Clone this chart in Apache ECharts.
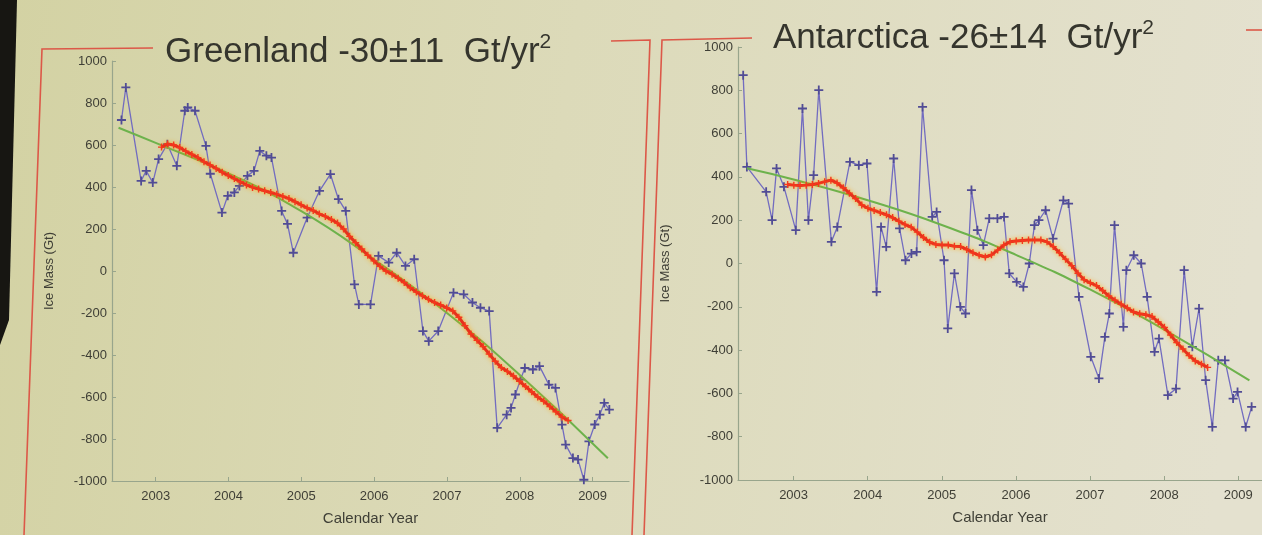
<!DOCTYPE html>
<html>
<head>
<meta charset="utf-8">
<title>GRACE ice mass: Greenland and Antarctica</title>
<script src="https://cdn.jsdelivr.net/npm/echarts@6/dist/echarts.min.js"></script>
<style>
  html, body { margin: 0; padding: 0; background: #dcdabc; }
  #chart { width: 1262px; height: 535px; }
</style>
</head>
<body>
<div id="chart"></div>
<script>
// Tick labels on the time axis
const yearTicks = [2003, 2004, 2005, 2006, 2007, 2008, 2009];

// Greenland: monthly GRACE solutions (decimal year, Gt)
const greenlandYears = [2002.53, 2002.59, 2002.80, 2002.87, 2002.96, 2003.04, 2003.16, 2003.29, 2003.40, 2003.44,
  2003.54, 2003.69, 2003.75, 2003.91, 2003.99, 2004.08, 2004.15, 2004.26, 2004.35, 2004.43,
  2004.52, 2004.59, 2004.73, 2004.81, 2004.89, 2005.08, 2005.25, 2005.40, 2005.51, 2005.61,
  2005.73, 2005.79, 2005.95, 2006.06, 2006.20, 2006.31, 2006.43, 2006.55, 2006.67, 2006.75,
  2006.88, 2007.09, 2007.23, 2007.35, 2007.46, 2007.58, 2007.69, 2007.82, 2007.88, 2007.94,
  2008.01, 2008.07, 2008.18, 2008.27, 2008.40, 2008.49, 2008.58, 2008.63, 2008.73, 2008.80,
  2008.88, 2008.95, 2009.03, 2009.10, 2009.16, 2009.23];
const greenlandMass = [719, 874, 429, 477, 421, 533, 604, 501, 763, 779,
  763, 596, 463, 278, 358, 374, 405, 453, 477, 572,
  549, 540, 286, 224, 87, 254, 382, 461, 342, 286,
  -64, -159, -159, 72, 40, 87, 24, 56, -286, -334,
  -286, -103, -111, -150, -175, -191, -747, -684, -652, -588,
  -517, -462, -469, -453, -541, -557, -732, -827, -891, -898,
  -994, -811, -731, -684, -628, -660];

// Greenland: 13-month running mean, one value per month from greenlandSmoothStart
const greenlandSmoothStart = 2003.08;
const greenlandSmooth = [590, 605, 600, 588, 570, 555, 540, 520, 505, 488,
  470, 455, 440, 425, 410, 398, 390, 382, 374, 365,
  355, 345, 330, 315, 300, 288, 272, 260, 245, 228,
  200, 165, 135, 105, 75, 48, 22, 0, -15, -35,
  -55, -80, -100, -118, -135, -150, -162, -176, -190, -220,
  -260, -300, -330, -360, -395, -430, -460, -478, -500, -525,
  -550, -575, -600, -620, -645, -670, -695, -712];

// Greenland: quadratic trend
const greenlandFitYears = [2002.49, 2003, 2004, 2005, 2006, 2007, 2008, 2009.21];
const greenlandFitMass = [682, 610, 465, 285, 55, -200, -495, -892];

// Antarctica: monthly GRACE solutions (decimal year, Gt)
const antarcticaYears = [2002.32, 2002.37, 2002.63, 2002.71, 2002.77, 2002.87, 2003.03, 2003.12, 2003.20, 2003.27,
  2003.34, 2003.51, 2003.59, 2003.76, 2003.88, 2003.99, 2004.12, 2004.18, 2004.25, 2004.35,
  2004.43, 2004.51, 2004.59, 2004.66, 2004.74, 2004.87, 2004.93, 2005.03, 2005.08, 2005.17,
  2005.25, 2005.32, 2005.40, 2005.48, 2005.56, 2005.64, 2005.75, 2005.84, 2005.91, 2006.01,
  2006.10, 2006.18, 2006.25, 2006.31, 2006.40, 2006.50, 2006.64, 2006.71, 2006.85, 2007.01,
  2007.12, 2007.20, 2007.26, 2007.33, 2007.45, 2007.49, 2007.59, 2007.69, 2007.77, 2007.87,
  2007.93, 2008.05, 2008.16, 2008.27, 2008.38, 2008.47, 2008.56, 2008.65, 2008.73, 2008.82,
  2008.93, 2008.99, 2009.10, 2009.18];
const antarcticaMass = [870, 446, 331, 200, 439, 354, 154, 716, 200, 408,
  801, 100, 169, 469, 454, 462, -131, 169, 77, 485,
  162, 15, 46, 54, 723, 215, 238, 15, -300, -46,
  -200, -231, 339, 154, 85, 208, 208, 215, -46, -85,
  -108, 0, 177, 200, 246, 115, 292, 277, -154, -431,
  -531, -339, -231, 177, -293, -31, 38, 0, -154, -408,
  -347, -608, -578, -31, -385, -208, -539, -755, -447, -447,
  -624, -593, -755, -662];

// Antarctica: 13-month running mean, one value per month from antarcticaSmoothStart
const antarcticaSmoothStart = 2002.92;
const antarcticaSmooth = [365, 362, 360, 362, 365, 370, 378, 385, 372, 350,
  325, 300, 270, 255, 245, 235, 225, 212, 195, 180,
  168, 145, 120, 98, 88, 85, 85, 80, 78, 65,
  50, 38, 30, 40, 62, 85, 100, 104, 106, 108,
  108, 108, 100, 78, 50, 20, -10, -45, -75, -90,
  -102, -125, -150, -170, -188, -205, -224, -232, -237, -245,
  -270, -295, -330, -365, -395, -425, -450, -465, -480];

// Antarctica: quadratic trend
const antarcticaFitYears = [2002.37, 2003, 2004, 2005, 2006, 2007, 2008, 2009.15];
const antarcticaFitMass = [440, 388, 292, 178, 40, -120, -305, -540];

// ---------------------------------------------------------------------------
const FONT = '"Liberation Sans", Arial, Helvetica, sans-serif';
const PLUS = 'path://M4,0H6V4H10V6H6V10H4V6H0V4H4Z';
const AXIS_COLOR = '#98a58c';
const LABEL_COLOR = '#3f3f36';

function pairs(xs, ys) { return xs.map((x, i) => [x, ys[i]]); }
function monthly(start, vals) { return vals.map((v, i) => [start + i / 12, v]); }
const plain = v => String(v);

function timeAxis(gridIndex, min, max) {
  return {
    gridIndex, type: 'value', min, max,
    name: 'Calendar Year', nameLocation: 'middle', nameGap: 30,
    nameTextStyle: { fontFamily: FONT, fontSize: 15, color: LABEL_COLOR },
    axisLine: { show: true, onZero: false, lineStyle: { color: AXIS_COLOR, width: 1.2 } },
    axisTick: { show: true, inside: true, length: 4, customValues: yearTicks, lineStyle: { color: AXIS_COLOR } },
    axisLabel: { customValues: yearTicks, formatter: plain, margin: 9, fontFamily: FONT, fontSize: 13, color: LABEL_COLOR },
    splitLine: { show: false }
  };
}

function massAxis(gridIndex, nameGap) {
  return {
    gridIndex, type: 'value', min: -1000, max: 1000, interval: 200,
    name: 'Ice Mass (Gt)', nameLocation: 'middle', nameGap, nameRotate: 90,
    nameTextStyle: { fontFamily: FONT, fontSize: 13, color: LABEL_COLOR },
    axisLine: { show: true, onZero: false, lineStyle: { color: AXIS_COLOR, width: 1.2 } },
    axisTick: { show: true, inside: true, length: 4, lineStyle: { color: AXIS_COLOR } },
    axisLabel: { formatter: plain, margin: 5, fontFamily: FONT, fontSize: 13, color: LABEL_COLOR },
    splitLine: { show: false }
  };
}

function seriesFor(idx, years, mass, smoothStart, smooth, fitYears, fitMass) {
  return [
    {
      type: 'line', xAxisIndex: idx, yAxisIndex: idx, z: 2,
      data: pairs(years, mass),
      symbol: PLUS, symbolSize: 9, showAllSymbol: true,
      lineStyle: { color: '#726cc0', width: 1.3 },
      itemStyle: { color: '#514c95' }
    },
    {
      type: 'line', xAxisIndex: idx, yAxisIndex: idx, z: 3,
      data: pairs(fitYears, fitMass), smooth: true,
      symbol: 'none',
      lineStyle: { color: '#6db24c', width: 2 }
    },
    {
      type: 'line', xAxisIndex: idx, yAxisIndex: idx, z: 4,
      data: monthly(smoothStart, smooth),
      symbol: PLUS, symbolSize: 7, showAllSymbol: true,
      lineStyle: { color: '#e5321d', width: 3, shadowColor: 'rgba(255,165,0,0.9)', shadowBlur: 5 },
      itemStyle: { color: '#f5381c' }
    }
  ];
}

const titleStyle = {
  fontFamily: FONT, fontSize: 35, fontWeight: 'normal', color: '#35352d',
  rich: {
    m: { fontFamily: FONT, fontSize: 35, color: '#35352d', lineHeight: 40 },
    s: { fontFamily: FONT, fontSize: 21, color: '#35352d', verticalAlign: 'top', lineHeight: 40, padding: [0, 0, 14, 0] }
  }
};

const frameStyle = { stroke: '#dc5848', lineWidth: 1.6, fill: null };

const chart = echarts.init(document.getElementById('chart'));
chart.setOption({
  animation: false,
  backgroundColor: {
    type: 'linear', x: 0, y: 0, x2: 1, y2: 0.35,
    colorStops: [
      { offset: 0, color: '#d3d2a3' },
      { offset: 0.45, color: '#dcdab9' },
      { offset: 1, color: '#e4e1cf' }
    ]
  },
  title: [
    { text: '{m|Greenland -30±11  Gt/yr}{s|2}', left: 160, top: 27, textStyle: titleStyle },
    { text: '{m|Antarctica -26±14  Gt/yr}{s|2}', left: 768, top: 13, textStyle: titleStyle }
  ],
  graphic: [
    { type: 'polygon', z: -1, shape: { points: [[0, 0], [17, 0], [9, 320], [0, 345]] }, style: { fill: '#171612' } },
    { type: 'polyline', shape: { points: [[153, 48], [42, 49], [24, 535]] }, style: frameStyle },
    { type: 'polyline', shape: { points: [[611, 41], [650, 40], [632, 535]] }, style: frameStyle },
    { type: 'polyline', shape: { points: [[752, 38], [662, 40], [644, 535]] }, style: frameStyle },
    { type: 'polyline', shape: { points: [[1246, 30], [1262, 30]] }, style: frameStyle }
  ],
  grid: [
    { left: 112, top: 61, width: 517, height: 420 },
    { left: 738, top: 47, right: 0, height: 433 }
  ],
  xAxis: [timeAxis(0, 2002.4, 2009.5), timeAxis(1, 2002.25, 2009.32)],
  yAxis: [massAxis(0, 56), massAxis(1, 66)],
  series: [
    ...seriesFor(0, greenlandYears, greenlandMass, greenlandSmoothStart, greenlandSmooth, greenlandFitYears, greenlandFitMass),
    ...seriesFor(1, antarcticaYears, antarcticaMass, antarcticaSmoothStart, antarcticaSmooth, antarcticaFitYears, antarcticaFitMass)
  ]
});
</script>
</body>
</html>
